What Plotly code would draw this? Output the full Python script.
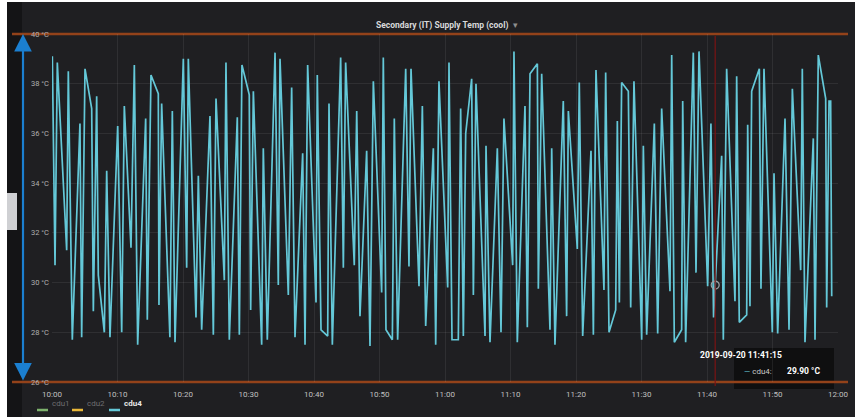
import pandas as pd
import plotly.graph_objects as go

# ---------------- data ----------------
start_time = "2019-09-20 10:00:00"
# minutes after 10:00 and cdu4 supply temperature (°C)
minutes = [
    0.05, 0.46, 0.81, 2.24, 2.49, 3.1, 4.27, 4.53, 5.04, 6.06, 6.31, 6.82, 7.07, 7.99, 8.35, 8.85,
    10.03, 10.64, 11.04, 12.06, 12.57, 13.08, 14.3, 14.55, 15.11, 16.23, 16.33, 16.74, 18.0, 18.37, 18.78,
    20.05, 20.56, 20.81, 21.98, 22.34, 22.85, 24.12, 24.63, 25.04, 26.31, 26.56, 27.07, 28.29, 28.6,
    29.0, 30.12, 30.33, 30.74, 32.01, 32.26, 32.87, 34.05, 34.55, 34.81, 36.08, 36.59, 37.1, 38.27,
    38.63, 39.03, 40.31, 40.5,
    41.07, 42.09, 42.29, 42.8, 44.07, 44.48, 44.83, 46.15, 46.52, 47.02, 48.04, 48.55, 49.06, 50.33,
    50.58, 50.99, 51.96, 52.26, 52.77, 54.0, 54.5, 54.81, 56.03, 56.54, 57.05, 58.22, 58.58, 59.08,
    60.41, 60.61, 61.07,
    62.03, 62.39, 62.8, 63.16, 64.07, 64.33, 64.73, 66.11, 66.26, 66.87, 67.99, 68.55, 69.0, 70.33,
    70.53, 71.04, 72.21, 72.57, 72.98, 74.1, 74.25, 74.76, 76.03, 76.29, 76.79, 78.06, 78.57, 78.83,
    80.2, 80.5, 81.02,
    82.29, 82.65, 83.05, 84.27, 84.53, 85.04, 86.06, 86.31, 86.62, 86.97, 87.99, 88.35, 88.85, 90.03,
    90.28, 90.79, 91.96, 92.47, 93.08, 94.35, 94.61, 95.01, 96.13, 96.29, 96.74, 97.91, 98.32, 98.78,
    100.1, 100.6, 101.0, 102.24,
    102.49, 103.0, 104.27, 104.53, 104.93, 106.06, 106.21, 106.56, 106.82, 107.99, 108.24, 108.7,
    109.97, 110.23, 110.79, 111.91, 112.52, 113.03, 114.3, 114.55, 114.96, 116.23, 116.49, 116.99,
    118.12, 118.27, 118.63, 118.88, 119.04,
]
cdu4_temp = [
    39.1, 30.7, 38.85, 31.3, 38.5, 27.7, 36.4, 27.8, 38.6, 37.0, 28.85, 37.5, 30.3, 28.0, 34.5, 27.8,
    36.3, 28.0, 37.1, 31.4, 38.75, 27.5, 36.6, 28.5, 38.35, 37.6, 29.1, 37.2, 27.8, 36.9, 27.6,
    39.0, 30.6, 39.0, 28.6, 34.3, 28.1, 36.7, 27.9, 37.4, 30.1, 38.85, 27.7, 36.65, 27.9,
    38.75, 37.55, 28.9, 37.7, 27.5, 35.4, 27.7, 39.25, 29.9, 39.0, 29.5, 37.85, 27.8, 35.2,
    27.5, 38.75, 29.2, 38.35,
    28.1, 27.85, 37.2, 27.5, 39.05, 30.6, 38.85, 30.7, 36.9, 28.65, 35.3, 27.45, 38.1, 29.6,
    39.05, 28.1, 27.7, 36.6, 27.7, 38.6, 30.65, 38.6, 29.85, 37.1, 28.25, 35.4, 27.5, 38.1,
    29.8, 38.85, 27.7,
    27.7, 37.0, 27.85, 36.0, 38.2, 29.5, 38.0, 27.85, 35.5, 27.6, 35.4, 28.0, 36.6, 30.7,
    39.3, 27.6, 37.1, 28.2, 38.4, 38.8, 29.75, 38.4, 28.1, 35.4, 27.5, 37.3, 28.65, 36.9,
    31.35, 38.05, 27.85,
    35.3, 27.9, 38.55, 29.7, 38.45, 28.0, 28.9, 36.5, 29.2, 38.05, 37.7, 29.0, 38.1, 27.7,
    35.5, 27.9, 36.4, 27.95, 37.0, 29.65, 39.15, 27.6, 28.1, 37.3, 27.6, 39.25, 30.4, 39.3,
    29.85, 36.4, 28.6, 35.1,
    27.7, 38.6, 29.25, 38.3, 28.4, 28.7, 36.35, 29.05, 37.7, 38.6, 29.75, 38.6,
    28.0, 34.4, 27.95, 36.6, 28.1, 37.8, 30.5, 38.6, 27.6, 35.8, 27.7, 39.15,
    37.4, 29.0, 37.3, 37.3, 29.45,
]
threshold_high = 40
threshold_low = 26
hover_time = "2019-09-20 11:41:15"
hover_value = 29.90
y_ticks = [26, 28, 30, 32, 34, 36, 38, 40]
x_tick_labels = ["10:00", "10:10", "10:20", "10:30", "10:40", "10:50", "11:00",
                 "11:10", "11:20", "11:30", "11:40", "11:50", "12:00"]
series_names = ["cdu1", "cdu2", "cdu4"]
series_colors = ["#7eb26d", "#eab839", "#64c8d8"]
title_text = "Secondary (IT) Supply Temp (cool)"

# ---------------- figure ----------------
t0 = pd.Timestamp(start_time)
times = [t0 + pd.Timedelta(minutes=m) for m in minutes]
t_end = t0 + pd.Timedelta(hours=2)
t_hover = pd.Timestamp(hover_time)
x_tick_vals = [pd.Timestamp("2019-09-20 " + s) for s in x_tick_labels]

W, H = 855, 417
L, R, T, B = 52, 17, 34, 35
PW, PH = W - L - R, H - T - B
Y0, Y1 = threshold_low, threshold_high


def px(xp):
    return (xp - L) / PW


def py(yp):
    return (H - B - yp) / PH


def yv(v):
    return (v - Y0) / (Y1 - Y0)


BG = "#1f1f22"
FONT = "Roboto, Arial, sans-serif"

fig = go.Figure()
fig.add_trace(go.Scatter(x=times, y=cdu4_temp, mode="lines", name="cdu4",
                         line=dict(color=series_colors[2], width=1.7),
                         showlegend=False, hoverinfo="skip"))
fig.add_trace(go.Scatter(x=[t_hover], y=[hover_value], mode="markers",
                         marker=dict(symbol="circle-open", size=8, color="#9aa4a8",
                                     line=dict(width=1.2)),
                         showlegend=False, hoverinfo="skip"))

shapes = []
# outer frame pieces (white border, dark side strip, small gray tab)
shapes.append(dict(type="rect", xref="paper", yref="paper", x0=px(0), x1=px(7), y0=py(H), y1=py(0),
                   fillcolor="#ffffff", line=dict(width=0), layer="above"))
shapes.append(dict(type="rect", xref="paper", yref="paper", x0=px(0), x1=px(W), y0=py(2), y1=py(0),
                   fillcolor="#ffffff", line=dict(width=0), layer="above"))
shapes.append(dict(type="rect", xref="paper", yref="paper", x0=px(7), x1=px(22), y0=py(H), y1=py(2),
                   fillcolor="#141416", line=dict(width=0), layer="below"))
shapes.append(dict(type="rect", xref="paper", yref="paper", x0=px(7), x1=px(17), y0=py(230), y1=py(193),
                   fillcolor="#cfd0d3", line=dict(width=0), layer="above"))
# tooltip box
shapes.append(dict(type="rect", xref="paper", yref="paper", x0=px(734), x1=px(834), y0=py(389), y1=py(348),
                   fillcolor="#0f0f10", line=dict(width=0), layer="below"))
# thresholds (paper-referenced so they are not clipped at the plot edge)
for v in (threshold_high, threshold_low):
    shapes.append(dict(type="line", xref="paper", yref="paper", x0=px(12), x1=px(848), y0=yv(v), y1=yv(v),
                       line=dict(color="#93421a", width=2.6), layer="below"))
# hover crosshair
shapes.append(dict(type="line", xref="x", yref="paper", x0=t_hover, x1=t_hover, y0=py(386), y1=py(36),
                   line=dict(color="#7a1414", width=1.2), layer="above"))
# legend line symbols
legend_x = [(37, 48), (72, 83), (109, 120)]
for (a, b), c in zip(legend_x, series_colors):
    shapes.append(dict(type="line", xref="paper", yref="paper", x0=px(a), x1=px(b), y0=py(410), y1=py(410),
                       line=dict(color=c, width=2.5), layer="above"))

annotations = []
annotations.append(dict(xref="paper", yref="paper", x=px(447), y=py(18), showarrow=False,
                        text="<b>" + title_text + "</b>  <span style='color:#8e8e8e'>▾</span>",
                        font=dict(family=FONT, size=8.5, color="#d8d9da")))
# blue double arrow (pixel offset spans the full 26–40 °C range)
annotations.append(dict(xref="paper", yref="y", x=px(23), y=threshold_high,
                        axref="pixel", ayref="pixel", ax=0, ay=PH,
                        text="", showarrow=True, arrowhead=2, arrowside="end+start",
                        arrowsize=1.6, arrowwidth=2.2, arrowcolor="#1b7fd0", standoff=0, startstandoff=0))
# tooltip text
annotations.append(dict(xref="paper", yref="paper", x=px(784), y=py(362), showarrow=False,
                        text="<b>" + t_hover.strftime("%Y-%m-%d %H:%M:%S") + "</b>",
                        font=dict(family=FONT, size=8.5, color="#ffffff")))
annotations.append(dict(xref="paper", yref="paper", x=px(742), y=py(378), showarrow=False, xanchor="left",
                        text="<span style='color:%s'>—</span> cdu4:" % series_colors[2],
                        font=dict(family=FONT, size=8, color="#c8c8c8")))
annotations.append(dict(xref="paper", yref="paper", x=px(785), y=py(378), showarrow=False, xanchor="left",
                        text="<b>%.2f °C</b>" % hover_value,
                        font=dict(family=FONT, size=8.5, color="#ffffff")))
# legend labels
legend_label_x = [50, 85, 122]
for name, xx in zip(series_names, legend_label_x):
    if name == "cdu4":
        txt, col = "<b>" + name + "</b>", "#e8e8e8"
    else:
        txt, col = name, "#6e6e70"
    annotations.append(dict(xref="paper", yref="paper", x=px(xx), y=py(410), showarrow=False,
                            xanchor="left", text=txt, font=dict(family=FONT, size=8, color=col)))

fig.update_layout(
    width=W, height=H,
    margin=dict(l=L, r=R, t=T, b=B, pad=0),
    paper_bgcolor=BG, plot_bgcolor=BG,
    font=dict(family=FONT, size=8, color="#b8b8b8"),
    showlegend=False,
    shapes=shapes, annotations=annotations,
    xaxis=dict(range=[t0, t_end], type="date", tickvals=x_tick_vals, ticktext=x_tick_labels,
               showgrid=True, gridcolor="rgba(255,255,255,0.075)", gridwidth=1,
               zeroline=False, showline=False, ticks="", tickfont=dict(size=8, color="#c0c0c0"),
               ticklabelstandoff=6, ticklabeloverflow="allow", automargin=False, fixedrange=True),
    yaxis=dict(range=[Y0, Y1], tickvals=y_ticks,
               ticktext=["%d °C" % v for v in y_ticks],
               showgrid=True, gridcolor="rgba(255,255,255,0.075)", gridwidth=1,
               zeroline=False, showline=False, ticks="", tickfont=dict(size=7.5, color="#b0b0b0"),
               ticklabelstandoff=2, automargin=False, fixedrange=True),
)

fig.write_html("out.html", config={"displayModeBar": False})
